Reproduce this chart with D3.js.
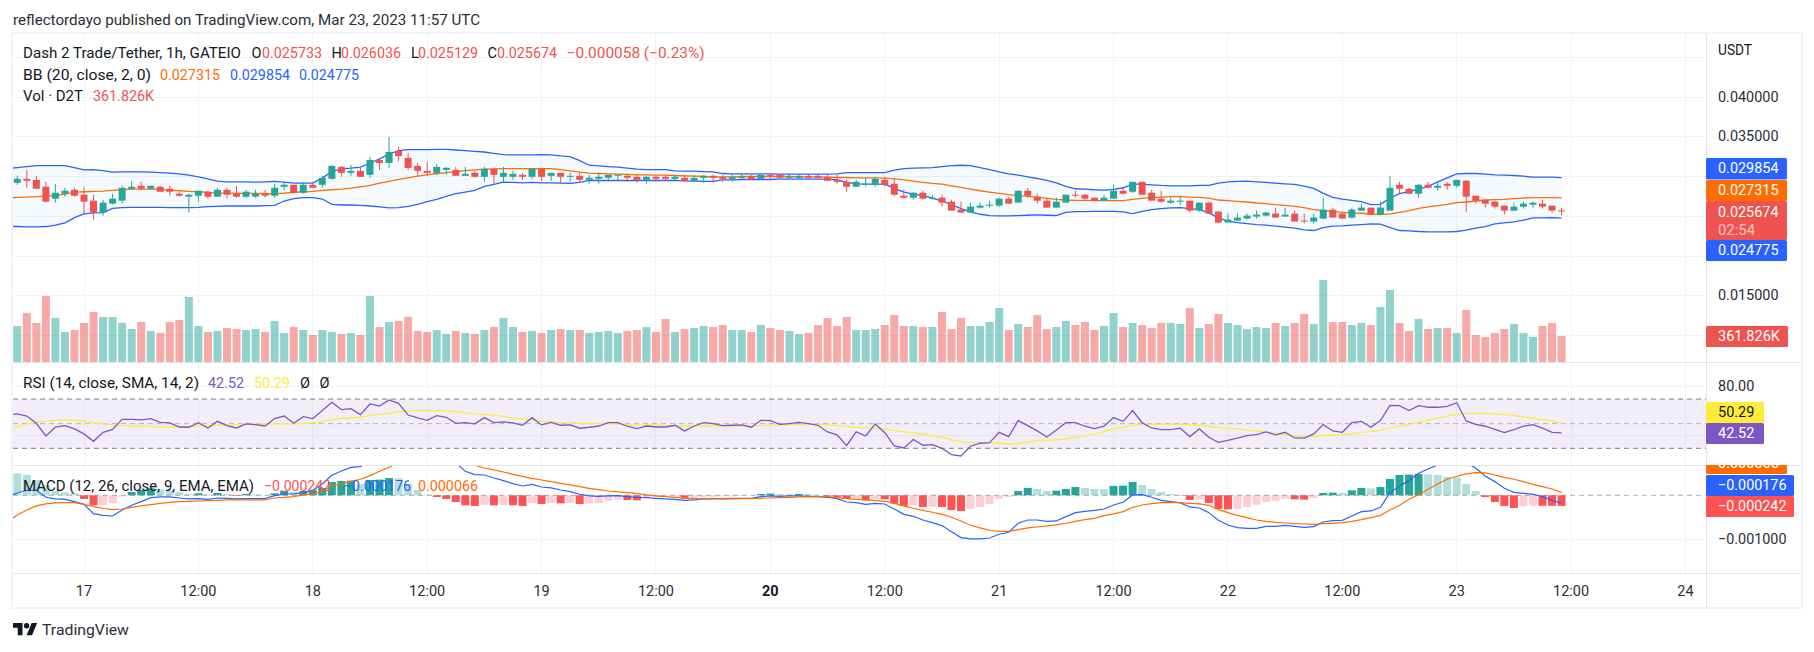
<!DOCTYPE html>
<html><head><meta charset="utf-8">
<script src="https://cdnjs.cloudflare.com/ajax/libs/d3/7.8.5/d3.min.js"></script>
<style>html,body{margin:0;background:#fff}svg{display:block}text{font-family:Roboto,sans-serif}</style>
</head><body><svg id="c" width="1814" height="652"></svg>
<script>
// bars are hourly, first bar = 16 Mar 16:00, last = 23 Mar 11:00; prices in 1e-6 USDT, volume in K
const firstHour=-8;
const opens=[29000,29208,29708,29583,28708,27208,27833,28333,
27708,26958,25458,26583,26958,28458,28833,28458,28708,28458,
27833,27458,27583,28083,27458,28333,27833,27458,27458,27833,
27583,28708,28958,27958,28958,28958,29708,31208,30458,30708,
30208,32083,31708,33208,32333,31333,30708,30458,30833,30833,
30083,30458,29958,30958,29958,29958,30208,29958,30958,30083,
30458,29958,30083,29583,29708,29833,30083,30083,29958,29583,
29958,29958,29708,29833,29458,29833,30083,29958,29708,29833,
29958,29708,30208,30208,29833,29833,30083,30083,29958,29583,
29333,28708,28958,28958,29583,29083,27583,27333,27958,27208,
27333,26833,25833,25458,26083,26333,26333,27208,26708,28208,
27458,26958,26083,26708,27708,27708,27333,26958,27208,28208,
28083,29333,27958,27208,26708,26833,26958,25708,26708,25583,
24208,24458,24708,24958,25083,25333,24958,25333,24458,24333,
24708,25833,25333,24833,25708,26083,25208,25708,28958,28458,
27833,28958,28583,29083,28833,29458,27583,27083,26833,26333,
25708,26208,26458,26583,26333,25733];
const closes=[29200,29708,29458,28458,26833,27958,28208,27583,
26833,25458,26708,27208,28583,28708,28458,28833,28083,28083,
27583,27708,28208,27458,28333,27708,27458,28083,27833,27583,
28583,28958,27958,28958,28583,29833,31333,30458,30708,29958,
32083,31708,33083,32583,31083,30708,30458,31208,31083,30083,
30333,29958,30958,30208,30458,30333,29958,30958,29958,30458,
29958,30083,29583,29833,29958,30208,30208,29833,29583,29958,
29708,29708,29958,29458,29833,30083,29833,29708,29958,29958,
29708,30208,30083,29833,29958,30083,29833,29833,29458,29333,
28708,29333,29083,29708,28958,27708,27333,27958,27208,27333,
26708,25708,25458,26208,26333,26458,27208,26583,28208,27583,
26958,26083,26833,27708,27583,27208,26958,27333,28208,27833,
29333,27708,26958,26833,26958,26958,25708,26708,25333,24208,
24583,24833,25083,25208,25458,24833,25208,24333,24333,24833,
25833,24833,24708,25833,26083,25208,26083,28583,28458,27833,
28958,28583,28833,28833,29583,27458,26958,26583,26208,25708,
26208,26583,26708,26208,25708,25674];
const highs=[29500,30083,30833,30083,29333,29083,28583,28583,
28708,27708,27083,27833,28833,29458,29333,28833,28833,28833,
28083,27833,28208,28208,28583,28583,28833,28333,28333,28333,
29083,29333,28958,29333,29333,30083,31458,31333,31458,31083,
32458,32333,34958,33708,32958,31708,31833,31583,31208,31208,
31208,30708,31208,31083,31208,30708,30458,30958,31083,30458,
30458,30458,30458,30208,30458,30208,30208,30333,30208,30083,
30208,30208,30208,30208,30208,30208,30208,30208,30208,30333,
30208,30208,30333,30333,30208,30208,30208,30208,30208,30208,
29583,29583,29833,29958,29958,29708,28333,28083,28208,27708,
27708,27083,26833,26708,26708,26958,27333,27458,28208,28583,
27833,27333,27333,27708,28208,27833,27333,27708,28958,28583,
29333,29333,28333,28208,27333,27458,26958,26708,26833,25708,
25333,25333,25333,25708,25583,26083,26083,25708,25333,25333,
27333,26083,25583,26083,26583,26083,26833,30083,29333,28583,
29083,29333,29333,29333,29583,29583,27583,27083,26958,26333,
26708,26833,26833,27083,26333,26036];
const lows=[28900,28958,28583,28458,26708,26708,27458,27458,
25333,24583,25083,26458,26583,28333,28333,28333,28083,27583,
27458,25458,26833,27208,27458,27208,27333,27333,27333,27333,
27333,28208,27833,27833,28583,28583,29583,29958,30083,29958,
29833,30833,31083,31958,30833,30083,30083,30208,30208,30083,
30083,29833,29333,29083,29333,29583,29583,29708,29458,29458,
29208,29333,29208,29083,29083,29583,29458,29333,29208,29083,
29333,29458,29458,29333,29333,29208,29208,29333,29333,29583,
29583,29583,29708,29708,29708,29708,29708,29833,29458,29083,
28083,28708,28708,28708,28708,27583,27208,27083,27083,27083,
26208,25708,25458,25458,25958,26083,26208,26583,26708,27333,
26583,26083,26083,26708,27333,27083,26958,26958,27208,27708,
27958,27708,26958,26708,26583,26458,25458,25583,25333,24083,
24208,24458,24583,24708,24958,24833,24958,24333,24083,24083,
24583,24833,24708,24708,25708,25208,25208,25708,27833,27833,
27333,28583,28208,28333,28583,25583,26583,26083,25958,25208,
25708,25958,26083,25958,25458,25129];
const volumes=[500,501,682,543,919,612,418,445,
543,696,626,626,543,459,557,432,404,557,
585,905,501,418,432,473,459,445,459,418,
571,404,487,445,376,445,418,390,404,376,
919,487,557,571,626,432,418,445,390,432,
404,390,445,487,612,487,418,432,404,445,
459,445,445,404,418,432,404,432,445,487,
418,599,418,459,473,501,487,515,445,445,
418,515,473,445,432,390,404,515,612,501,
626,445,445,459,515,654,501,501,487,487,
696,459,612,501,501,557,752,445,529,487,
654,459,487,571,515,557,445,501,682,487,
543,515,473,543,543,529,752,473,529,668,
543,515,459,487,473,543,501,543,668,529,
1141,557,557,515,543,515,766,1002,543,432,
599,459,473,473,404,724,376,348,404,459,
529,404,348,501,543,361.826];
const bbUpper=[31000,31125,31250,31375,31375,31375,31375,31125,
30833,30875,30750,30542,30583,30583,30583,30542,30500,30417,
30333,30167,29958,29708,29417,29333,29333,29333,29292,29333,
29375,29292,29167,29167,29167,29792,30625,30958,31042,31167,
31667,32208,32833,33250,33375,33375,33375,33417,33417,33333,
33250,33167,33083,32917,32750,32708,32708,32708,32750,32708,
32583,32500,32000,31417,31333,31250,31167,31042,30917,30875,
30875,30875,30708,30667,30667,30625,30583,30375,30333,30333,
30333,30333,30333,30292,30292,30292,30292,30292,30292,30333,
30500,30500,30500,30500,30500,30792,31000,31042,31083,31125,
31250,31375,31417,31375,31125,30875,30583,30333,30167,29958,
29750,29500,29208,28750,28458,28417,28333,28292,28375,28583,
29042,29042,28958,28875,28833,28833,28833,28875,28875,29167,
29333,29375,29417,29333,29250,29167,29083,29000,28792,28500,
27875,27375,27167,27000,26833,26458,26500,27292,27833,28083,
28417,28750,29333,29833,30333,30375,30375,30292,30208,30167,
30125,30042,29917,29917,29917,29854];
const bbMid=[27333,27375,27417,27458,27542,27625,27792,28000,
28083,28125,28167,28250,28333,28417,28417,28417,28375,28292,
28208,28125,28083,28000,27917,27917,27875,27875,27875,27833,
27833,27917,28000,28083,28125,28250,28333,28417,28542,28708,
28875,29167,29375,29625,29833,30042,30208,30375,30500,30625,
30750,30833,30917,30958,31000,31000,31000,31000,31000,31000,
30875,30708,30542,30417,30375,30333,30292,30250,30208,30208,
30167,30167,30125,30083,30042,30000,29958,29958,29958,30000,
30000,30000,30000,30000,30000,29958,29958,29958,29917,29875,
29875,29833,29833,29833,29792,29708,29583,29417,29250,29125,
29042,28833,28625,28417,28208,28042,27875,27708,27583,27500,
27417,27250,27125,27042,27000,27000,26958,26958,26958,26958,
27125,27250,27333,27417,27458,27458,27417,27375,27292,27042,
26958,26875,26792,26667,26583,26458,26375,26250,26083,25833,
25708,25625,25500,25417,25375,25250,25208,25292,25500,25708,
26000,26167,26333,26500,26708,26792,26917,27042,27083,27125,
27208,27292,27333,27333,27333,27315];
const bbLower=[23708,23708,23667,23667,23708,23875,24167,24833,
25292,25417,25458,26000,26083,26125,26125,26125,26125,26083,
26083,26083,26125,26208,26250,26292,26292,26292,26292,26333,
26375,26917,27208,27333,27333,27167,26500,26417,26417,26375,
26292,26167,26042,26083,26250,26500,26833,27125,27500,27833,
28042,28250,28750,29000,29292,29250,29208,29250,29208,29208,
29167,29125,29250,29500,29500,29500,29500,29500,29500,29500,
29500,29500,29500,29458,29417,29375,29375,29583,29583,29625,
29625,29625,29625,29667,29667,29667,29667,29667,29667,29583,
29250,29083,29042,29042,29042,28500,28042,27792,27583,27292,
26917,26458,25958,25542,25250,25083,25042,25042,25083,25125,
25167,25125,25083,25500,25583,25583,25625,25625,25625,25542,
25333,25625,25833,25958,26042,26083,25958,25833,25417,24792,
24375,24208,24083,23958,23875,23750,23625,23500,23292,23208,
23583,23750,23792,23875,23958,24042,24000,23583,23208,23167,
23083,23042,23042,23042,23083,23250,23500,23708,24042,24167,
24292,24500,24792,24792,24833,24775];
const rsi=[57.0,57.9,56.2,50.3,40.0,47.1,48.4,45.7,
41.7,35.7,43.0,45.4,53.5,53.5,53.0,54.1,51.1,50.6,
47.3,47.1,50.8,46.5,51.9,48.4,46.5,49.8,49.2,48.1,
54.1,56.2,50.3,55.7,54.1,60.6,67.3,61.4,62.2,57.3,
66.0,64.3,69.2,66.5,57.0,54.6,52.7,56.5,55.2,50.3,
50.8,49.8,54.9,50.8,51.4,50.6,48.7,54.9,49.0,51.1,
48.7,49.0,46.3,47.1,48.1,50.8,50.8,47.9,46.0,48.1,
47.3,47.3,48.7,44.1,48.1,50.8,50.0,48.4,48.7,49.0,
47.1,52.7,52.5,49.5,50.0,51.1,50.0,48.7,43.3,40.9,
32.2,43.3,40.0,49.8,42.7,31.9,30.3,37.1,32.5,33.0,
30.0,24.9,23.8,31.7,34.1,34.6,43.0,39.5,52.5,48.4,
44.1,39.2,44.9,50.8,50.8,47.9,46.0,47.9,54.9,51.9,
60.6,50.8,46.5,45.2,45.2,46.3,39.5,45.7,39.0,34.9,
36.5,38.2,40.3,41.1,43.3,40.9,43.0,38.4,38.2,41.7,
49.2,44.1,43.0,50.8,51.9,47.1,52.5,64.9,64.6,60.6,
64.6,63.3,63.3,64.1,67.0,52.2,49.5,47.9,45.4,42.7,
45.2,47.9,49.2,46.3,43.0,42.52];
const rsiMa=[44.9,47.6,49.8,51.1,51.9,52.7,52.7,52.7,
51.9,50.6,49.8,49.0,48.4,47.9,47.9,47.6,47.6,47.3,
47.6,47.9,48.1,48.4,48.7,49.0,49.2,49.5,49.5,49.8,
49.8,49.8,50.0,50.3,50.6,51.4,53.3,54.4,54.6,55.4,
56.5,57.6,58.4,59.8,60.3,60.6,60.6,60.6,60.6,59.8,
58.7,57.9,57.3,57.0,56.0,54.6,53.8,53.0,51.9,51.4,
50.8,50.6,50.3,50.3,50.0,49.8,49.8,49.2,49.0,48.7,
48.7,48.4,48.1,47.9,47.9,48.1,48.1,48.1,48.1,48.1,
48.1,48.4,49.0,49.0,49.2,49.2,49.5,49.5,49.0,48.4,
47.6,47.1,46.8,46.5,45.7,44.6,43.3,42.5,41.4,40.0,
39.0,37.1,35.5,34.6,34.6,34.4,34.1,33.3,34.1,35.2,
36.5,36.5,36.8,37.6,39.0,40.0,41.7,43.6,46.0,47.1,
48.4,49.5,49.5,49.5,49.5,49.5,49.2,48.7,47.9,46.8,
46.3,45.7,44.6,44.1,43.3,42.2,40.9,40.0,39.8,39.8,
40.3,40.6,40.9,41.9,43.0,43.8,44.6,46.5,48.1,49.5,
51.1,52.7,54.4,56.2,57.6,58.4,58.4,58.4,57.9,57.3,
56.8,55.4,54.4,53.3,51.9,50.29];
const macd=[-30,53,114,114,-45,-83,-91,-144,
-205,-417,-455,-470,-333,-227,-144,-53,-38,-38,
-61,-83,-76,-91,-61,-68,-83,-76,-76,-76,
-8,30,30,61,114,258,455,553,636,652,
795,902,1030,1129,1091,1038,970,924,856,742,
545,470,462,394,333,265,212,250,189,167,
121,83,23,-15,-23,-15,-8,-30,-45,-53,
-68,-83,-91,-114,-106,-83,-76,-76,-68,-68,
-68,-30,-15,-23,-15,-15,-23,-30,-45,-76,
-152,-167,-205,-182,-197,-311,-432,-477,-561,-621,
-689,-826,-962,-992,-992,-970,-886,-841,-636,-561,
-561,-591,-583,-485,-394,-364,-341,-311,-220,-159,
8,15,-45,-114,-144,-174,-265,-288,-394,-568,
-674,-735,-750,-750,-705,-705,-682,-705,-727,-712,
-606,-576,-568,-470,-371,-356,-273,61,212,333,
500,598,689,765,788,750,614,439,311,159,
68,45,23,-30,-114,-176];
const macdSignal=[-598,-447,-333,-242,-197,-174,-167,-167,
-205,-258,-295,-326,-311,-273,-242,-212,-182,-159,
-144,-136,-129,-121,-114,-106,-106,-106,-106,-106,
-61,-45,-30,8,30,91,205,258,318,364,
447,545,636,742,833,917,955,962,939,894,
803,682,621,576,530,477,432,386,348,311,
273,235,197,159,129,98,76,61,45,8,
-15,-30,-45,-61,-76,-83,-83,-83,-83,-76,
-76,-68,-61,-53,-45,-38,-38,-30,-30,-53,
-76,-91,-106,-121,-136,-182,-242,-295,-341,-386,
-432,-500,-583,-682,-742,-795,-818,-818,-780,-742,
-720,-697,-674,-636,-591,-553,-523,-462,-424,-371,
-273,-220,-189,-167,-159,-167,-182,-197,-227,-326,
-394,-455,-508,-561,-591,-614,-629,-644,-652,-659,
-644,-636,-621,-591,-553,-508,-455,-333,-227,-91,
15,136,258,364,432,485,515,508,462,409,
364,311,250,197,144,66];
const macdHist=[515,500,462,348,227,98,68,45,
-83,-227,-220,-174,-30,76,121,159,136,121,
76,30,45,23,53,30,-15,30,23,8,
45,98,76,98,129,167,303,326,333,258,
348,356,394,386,258,121,15,-38,-83,-152,
-227,-242,-220,-227,-220,-227,-242,-174,-197,-174,
-182,-174,-197,-189,-174,-129,-98,-106,-114,-45,
-38,-30,-23,-76,-61,-38,-37,-30,-23,-15,
-8,30,38,23,15,30,23,8,-30,-38,
-83,-61,-114,-83,-91,-189,-242,-227,-265,-258,
-265,-333,-356,-311,-265,-197,-83,-38,98,167,
144,98,106,144,189,167,144,140,212,220,
303,235,144,76,30,-8,-106,-98,-174,-311,
-318,-311,-265,-212,-152,-129,-83,-91,-98,-61,
53,61,53,114,167,159,189,371,462,470,
485,477,462,417,409,258,98,-38,-152,-242,
-288,-250,-235,-238,-240,-242];
const priceGrid=[45000,40000,35000,30000,25000,20000,15000,10000];
const priceTicks=[40000,35000,15000];
const rsiGrid=[80,40];
const rsiLevels=[70,50,30];
const macdTicks=[-1000];
const timeTicks=[0,12,24,36,48,60,72,84,96,108,120,132,144,156,168];
const timeLabels=["17","12:00","18","12:00","19","12:00","20","12:00","21","12:00","22","12:00","23","12:00","24"];

const G="#26a69a",R="#ef5350",BLUE="#2962ff",ORANGE="#ff6d00",PURPLE="#7e57c2",YEL="#ffeb3b",GRID="#f0f3fa",SEP="#e0e3eb",TXT="#131722";
const L=13,AX=1706,RIGHT=1801,TOP=34,P1=362,P2=465,P3=573,BOT=607;
const n=closes.length, idx=d3.range(n), hr=i=>i+firstHour;
const x=d3.scaleLinear().domain([0,168]).range([84,1685.5]);
const yP=d3.scaleLinear().domain([40000,15000]).range([97,295.75]);
const yV=d3.scaleLinear().domain([0,1392]).range([P1,P1-100]);
const yR=d3.scaleLinear().domain([80,30]).range([386.7,448.3]);
const yM=d3.scaleLinear().domain([0,-1000]).range([495.3,539.3]);
const svg=d3.select("#c");
const defs=svg.append("defs");
[["cp1",TOP,P1],["cp2",P1,P2],["cp3",P2,P3]].forEach(([id,a,b])=>defs.append("clipPath").attr("id",id).append("rect").attr("x",L).attr("y",a).attr("width",AX-L).attr("height",b-a));
svg.append("rect").attr("x",12).attr("y",33).attr("width",RIGHT-12+1).attr("height",BOT-33+1).attr("fill","#fff").attr("stroke",GRID).attr("stroke-width",2);

// grid
const grid=svg.append("g").attr("stroke",GRID).attr("stroke-width",1).attr("shape-rendering","crispEdges");
grid.selectAll(".v").data(timeTicks).join("line").attr("x1",d=>x(d)).attr("x2",d=>x(d)).attr("y1",TOP).attr("y2",P3);
grid.selectAll(".h").data(priceGrid).join("line").attr("x1",L).attr("x2",AX).attr("y1",d=>yP(d)).attr("y2",d=>yP(d));
grid.selectAll(".r").data(rsiGrid).join("line").attr("x1",L).attr("x2",AX).attr("y1",d=>yR(d)).attr("y2",d=>yR(d));
grid.selectAll(".m").data(macdTicks).join("line").attr("x1",L).attr("x2",AX).attr("y1",d=>yM(d)).attr("y2",d=>yM(d));

// volume
const gV=svg.append("g").attr("clip-path","url(#cp1)");
gV.selectAll("rect").data(idx).join("rect").attr("x",i=>x(hr(i))-4).attr("width",8)
 .attr("y",i=>yV(volumes[i])).attr("height",i=>yV(0)-yV(volumes[i]))
 .attr("fill",i=>closes[i]>=opens[i]?G:R).attr("opacity",.5);

// BB
const gB=svg.append("g").attr("clip-path","url(#cp1)");
gB.append("path").attr("d",d3.area().x(i=>x(hr(i))).y0(i=>yP(bbLower[i])).y1(i=>yP(bbUpper[i]))(idx)).attr("fill","#2196f3").attr("opacity",.05);
const ln=(xf,yf)=>d3.line().x(i=>xf(hr(i))).y(yf);
[[bbUpper,BLUE],[bbLower,BLUE],[bbMid,ORANGE]].forEach(([a,c])=>gB.append("path").attr("d",ln(x,i=>yP(a[i]))(idx)).attr("fill","none").attr("stroke",c).attr("stroke-width",1.3));

// candles
const gC=svg.append("g").attr("clip-path","url(#cp1)");
gC.selectAll("line").data(idx).join("line").attr("x1",i=>x(hr(i))).attr("x2",i=>x(hr(i))).attr("y1",i=>yP(highs[i])).attr("y2",i=>yP(lows[i]))
 .attr("stroke",i=>closes[i]>=opens[i]?G:R).attr("stroke-width",1);
gC.selectAll("rect").data(idx).join("rect").attr("x",i=>x(hr(i))-3.5).attr("width",7)
 .attr("y",i=>yP(Math.max(opens[i],closes[i]))).attr("height",i=>Math.max(1,yP(Math.min(opens[i],closes[i]))-yP(Math.max(opens[i],closes[i]))))
 .attr("fill",i=>closes[i]>=opens[i]?G:R);

// RSI
const gR=svg.append("g").attr("clip-path","url(#cp2)");
gR.append("rect").attr("x",L).attr("width",AX-L).attr("y",yR(70)).attr("height",yR(30)-yR(70)).attr("fill",PURPLE).attr("opacity",.1);
gR.selectAll("line").data(rsiLevels).join("line").attr("x1",L).attr("x2",AX).attr("y1",d=>yR(d)).attr("y2",d=>yR(d))
 .attr("stroke","#787b86").attr("stroke-opacity",d=>d==50?.5:1).attr("stroke-dasharray","5 4");
gR.append("path").attr("d",ln(x,i=>yR(rsiMa[i]))(idx)).attr("fill","none").attr("stroke",YEL).attr("stroke-width",1.3);
gR.append("path").attr("d",ln(x,i=>yR(rsi[i]))(idx)).attr("fill","none").attr("stroke",PURPLE).attr("stroke-width",1.3);

// MACD
const gM=svg.append("g").attr("clip-path","url(#cp3)");
const histCol=i=>{const v=macdHist[i],p=i?macdHist[i-1]:v+1;return v>=0?(v>=p?"#26a69a":"#b2dfdb"):(v<p?"#ff5252":"#ffcdd2")};
gM.selectAll("rect").data(idx).join("rect").attr("x",i=>x(hr(i))-4).attr("width",8)
 .attr("y",i=>Math.min(yM(0),yM(macdHist[i]))).attr("height",i=>Math.abs(yM(macdHist[i])-yM(0))).attr("fill",histCol);
gM.append("line").attr("x1",L).attr("x2",AX).attr("y1",yM(0)).attr("y2",yM(0)).attr("stroke","#787b86").attr("stroke-opacity",.6).attr("stroke-dasharray","5 4");
gM.append("path").attr("d",ln(x,i=>yM(macd[i]))(idx)).attr("fill","none").attr("stroke",BLUE).attr("stroke-width",1.2);
gM.append("path").attr("d",ln(x,i=>yM(macdSignal[i]))(idx)).attr("fill","none").attr("stroke",ORANGE).attr("stroke-width",1.2);

// separators
const sep=svg.append("g").attr("stroke",SEP).attr("stroke-width",1).attr("shape-rendering","crispEdges");
[P1,P2,P3].forEach(y=>sep.append("line").attr("x1",L).attr("x2",RIGHT).attr("y1",y).attr("y2",y));
sep.append("line").attr("x1",AX).attr("x2",AX).attr("y1",TOP).attr("y2",BOT);

// text helper: o.tl fits the text to the width measured in the picture
const FS=14.5;
function t(s,xx,y,c=TXT,o={}){const e=svg.append("text").text(s).attr("x",xx).attr("y",y).attr("dominant-baseline","central").attr("fill",c).attr("font-size",o.fs||FS).attr("text-anchor",o.a||"start").attr("font-weight",o.w||400).attr("opacity",o.op||1);
 if(o.tl)e.attr("textLength",o.tl).attr("lengthAdjust","spacingAndGlyphs");return e}
t("reflectordayo published on TradingView.com, Mar 23, 2023 11:57 UTC",13,20,"#2a2e39",{fs:14.2,tl:467});
// legends
const RC=R,V=60;
t("Dash 2 Trade/Tether, 1h, GATEIO",23,53,TXT,{tl:218});
[["O",251.5,"0.025733",262],["H",331.4,"0.026036",341],["L",411,"0.025129",418],["C",487.5,"0.025674",497]].forEach(([a,ax,b,bx])=>{t(a,ax,53);t(b,bx,53,RC,{tl:V})});
t("−0.000058 (−0.23%)",566.6,53,RC,{tl:138});
t("BB (20, close, 2, 0)",23,75,TXT,{tl:128});t("0.027315",160,75,ORANGE,{tl:V});t("0.029854",230,75,BLUE,{tl:V});t("0.024775",299,75,BLUE,{tl:V});
t("Vol · D2T",23,96,TXT,{tl:60});t("361.826K",93,96,RC,{tl:61});
t("RSI (14, close, SMA, 14, 2)",23,383,TXT,{tl:176});t("42.52",208,383,PURPLE,{tl:36});t("50.29",254,383,YEL,{tl:36});t("Ø",300,383);t("Ø",319.5,383);
t("MACD (12, 26, close, 9, EMA, EMA)",23,486,TXT,{tl:231});t("−0.000242",264,486,"#ff5252",{tl:67});t("−0.000176",344,486,BLUE,{tl:67});t("0.000066",418,486,ORANGE,{tl:V});

// axis labels
const AXF=14.5,fmtP=d=>(d/1e6).toFixed(6);
t("USDT",1718,50,TXT,{fs:14,tl:34});
priceTicks.forEach(d=>t(fmtP(d),1718,yP(d),"#2a2e39",{fs:AXF,tl:60.5}));
t("80.00",1718,yR(80),"#2a2e39",{fs:AXF,tl:36.4});
macdTicks.forEach(d=>t("−"+fmtP(-d),1718,yM(d),"#2a2e39",{fs:AXF,tl:68.5}));
timeTicks.forEach((d,k)=>t(timeLabels[k],x(d),591,timeLabels[k]=="20"?"#131722":"#2a2e39",{fs:AXF,a:"middle",w:timeLabels[k]=="20"?700:400}));
// tags
function tag(s,y0,y1,w,bg,fg,tl,sub){svg.append("rect").attr("x",AX).attr("y",y0).attr("width",w).attr("height",y1-y0).attr("rx",1.5).attr("fill",bg);
 t(s,1718,sub?y0+11.5:(y0+y1)/2,fg,{fs:AXF,tl});if(sub)t(sub,1718,y0+29.5,fg,{fs:AXF,op:.65,tl:37});}
defs.append("clipPath").attr("id","cpo").append("rect").attr("x",AX).attr("y",P2).attr("width",RIGHT-AX).attr("height",P3-P2);
const o=svg.append("g").attr("clip-path","url(#cpo)");
o.append("rect").attr("x",AX).attr("y",453).attr("width",81).attr("height",21).attr("rx",1.5).attr("fill",ORANGE);
o.append("text").text("0.000066").attr("x",1718).attr("y",463.5).attr("dominant-baseline","central").attr("fill","#fff").attr("font-size",AXF);
tag("0.029854",158,179.5,81,BLUE,"#fff",60.5);
tag("0.027315",180,201,81,ORANGE,"#fff",60.5);
tag("0.025674",201,240,81,R,"#fff",60.5,"02:54");
tag("0.024775",240,261,81,BLUE,"#fff",60.5);
tag("361.826K",326,347,82,R,"#fff",62);
tag("50.29",402,423,58,YEL,"#131722",36.4);
tag("42.52",423,444,58,PURPLE,"#fff",36.4);
tag("−0.000176",475,496,88,BLUE,"#fff",68.5);
tag("−0.000242",496,517,88,"#ff5252","#fff",68.5);
// logo
const lg=svg.append("g").attr("transform","translate(13,618.2) scale(.68)").attr("fill","#131722");
lg.append("path").attr("d","M14 25H7V14H0V7h14v18zM28 25h-8l7.5-18h8L28 25z");
lg.append("circle").attr("cx",20).attr("cy",11).attr("r",4);
t("TradingView",42,630,"#2a2e39",{fs:15.5,tl:87});
</script></body></html>
